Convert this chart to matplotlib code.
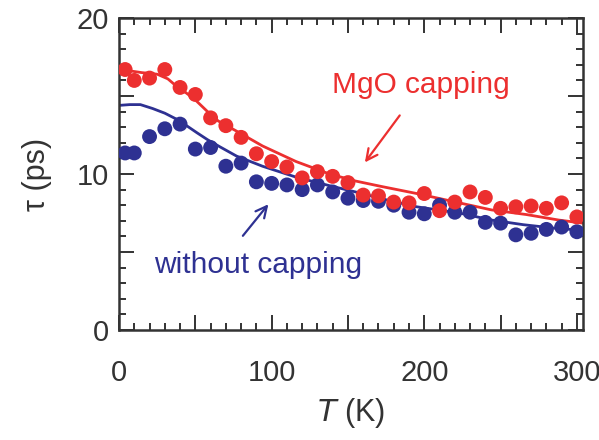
import matplotlib
matplotlib.use("Agg")
import matplotlib.pyplot as plt
from matplotlib.ticker import MultipleLocator

plt.rcParams["font.family"] = ["Liberation Sans", "DejaVu Sans"]

RED = "#EC2F2F"
BLUE = "#2E3192"

# ── Data ─────────────────────────────────────────────────────────────
T_pts = [4, 10, 20, 30, 40, 50, 60, 70, 80, 90, 100, 110, 120, 130, 140, 150,
         160, 170, 180, 190, 200, 210, 220, 230, 240, 250, 260, 270, 280, 290, 300]
tau_mgo = [16.7, 16.0, 16.15, 16.7, 15.55, 15.1, 13.6, 13.1, 12.35, 11.3, 10.8,
           10.45, 9.75, 10.15, 9.85, 9.45, 8.65, 8.6, 8.2, 8.15, 8.75, 7.65, 8.2,
           8.85, 8.5, 7.8, 7.9, 7.95, 7.8, 8.15, 7.25]
tau_bare = [11.35, 11.35, 12.4, 12.9, 13.2, 11.6, 11.7, 10.5, 10.7, 9.5, 9.4,
            9.3, 9.0, 9.3, 8.85, 8.45, 8.3, 8.25, 8.0, 7.55, 7.45, 8.0, 7.55,
            7.55, 6.9, 6.85, 6.1, 6.2, 6.45, 6.6, 6.3]

# fit curves
T_fit_mgo = [0, 8, 15, 25, 32, 38, 44, 50, 58, 65, 77, 94, 116, 138, 155, 172,
             195, 216, 244, 267, 288, 304]
tau_fit_mgo = [16.6, 16.6, 16.5, 16.4, 16.1, 15.6, 15.2, 14.75, 14.0, 13.4,
               12.75, 11.8, 10.8, 10.0, 9.55, 9.2, 8.75, 8.3, 7.7, 7.4, 7.05, 6.85]
T_fit_bare = [0, 7, 14, 22, 30, 38, 45, 51, 58, 66, 77, 94, 116, 138, 155, 175,
              195, 223, 244, 265, 288, 304]
tau_fit_bare = [14.4, 14.45, 14.45, 14.2, 13.9, 13.5, 13.05, 12.65, 12.2, 11.75,
                11.15, 10.5, 9.8, 9.25, 8.85, 8.35, 7.9, 7.5, 7.05, 6.75, 6.5, 6.4]

# ── Figure ───────────────────────────────────────────────────────────
fig = plt.figure(figsize=(5.99, 4.40), dpi=100)
ax = fig.add_axes([0.1987, 0.25, 0.9733 - 0.1987, 0.959 - 0.25])

ax.plot(T_fit_mgo, tau_fit_mgo, color=RED, lw=2.0, zorder=2)
ax.plot(T_fit_bare, tau_fit_bare, color=BLUE, lw=2.0, zorder=2)
ax.scatter(T_pts, tau_bare, s=115, color=BLUE, edgecolors="none", zorder=3)
ax.scatter(T_pts, tau_mgo, s=115, color=RED, edgecolors="none", zorder=4)

ax.set_xlim(0, 304)
ax.set_ylim(0, 20)
ax.xaxis.set_minor_locator(MultipleLocator(10))
ax.yaxis.set_minor_locator(MultipleLocator(1))
ax.set_xticks([0, 50, 100, 150, 200, 250, 300])
ax.set_xticklabels(["0", "", "100", "", "200", "", "300"])
ax.set_yticks([0, 5, 10, 15, 20])
ax.set_yticklabels(["0", "", "10", "", "20"])

ax.tick_params(which="both", direction="in", top=True, right=True,
               color="#333333", width=1.4)
ax.tick_params(which="major", length=11)
ax.tick_params(which="minor", length=5)
ax.tick_params(axis="x", which="major", labelsize=21, pad=21, labelcolor="#333333")
ax.tick_params(axis="y", which="major", labelsize=21, pad=7, labelcolor="#333333")
for sp in ax.spines.values():
    sp.set_linewidth(1.8)
    sp.set_color("#333333")

ax.set_xlabel(r"$\mathit{T}$ (K)", fontsize=22, color="#333333", labelpad=6)
ax.set_ylabel("τ (ps)", fontsize=22, color="#333333", labelpad=18)

# annotations
ax.text(198, 15.7, "MgO capping", color=RED, fontsize=21.5, ha="center",
        va="center")
ax.annotate("", xy=(160, 10.6), xytext=(185, 13.9),
            arrowprops=dict(arrowstyle="->", color=RED, lw=1.6,
                            mutation_scale=20))
ax.text(91, 3.65, "without capping", color=BLUE, fontsize=21.5, ha="center",
        va="baseline")
ax.annotate("", xy=(99, 8.2), xytext=(80, 5.9),
            arrowprops=dict(arrowstyle="->", color=BLUE, lw=1.6,
                            mutation_scale=20))

fig.savefig("out.png", dpi=100, facecolor="white")
